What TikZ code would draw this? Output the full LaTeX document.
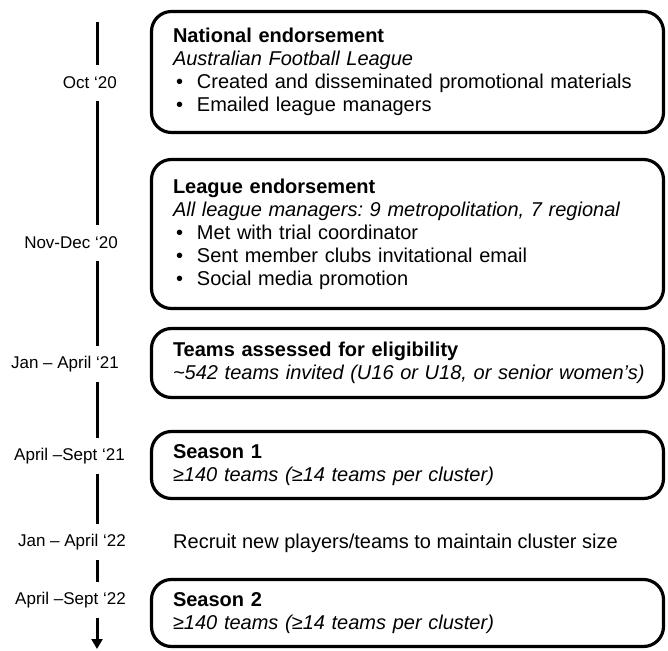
\documentclass[tikz,border=0pt]{standalone}
\usepackage{fontspec}
\setmainfont{Liberation Sans}
\usetikzlibrary{arrows.meta}
\newcommand\bul{\makebox[24pt][l]{\hspace{3pt}•}}
\frenchspacing
\hfuzz=100pt
\begin{document}
\begin{tikzpicture}[x=1pt,y=1pt,
  box/.style={draw=black, line width=3.2pt, rounded corners=20pt, minimum width=512pt,
    text width=469pt, inner xsep=21.5pt, inner ysep=0pt, align=left,
    font=\fontsize{20}{23}\selectfont, anchor=center},
  lab/.style={anchor=east, inner sep=0pt, minimum height=36pt, font=\fontsize{17}{20}\selectfont},
  tl/.style={line width=3pt}]
\useasboundingbox (0,0) rectangle (668,650);

% boxes
\node[box, minimum height=121pt] (b1) at (407.5,578) {\textbf{National endorsement}\\
  \textit{Australian Football League}\\
  \bul Created and disseminated promotional materials\\
  \bul Emailed league managers};
\node[box, minimum height=149pt] (b2) at (407.5,416) {\textbf{League endorsement}\\
  \textit{All league managers: 9 metropolitation, 7 regional}\\
  \bul Met with trial coordinator\\
  \bul Sent member clubs invitational email\\
  \bul Social media promotion};
\node[box, minimum height=69pt] (b3) at (407.5,287) {\textbf{Teams assessed for eligibility}\\
  \mbox{\textit{\textasciitilde 542 teams invited (U16 or U18, or senior women’s)}}};
\node[box, minimum height=67pt] (b4) at (407.5,185) {\textbf{Season 1}\\
  \textit{≥140 teams (≥14 teams per cluster)}};
\node[anchor=west, inner sep=0pt, font=\fontsize{20}{23}\selectfont] (rec) at (173,107)
  {Recruit new players/teams to maintain cluster size};
\node[box, minimum height=67pt] (b5) at (407.5,37) {\textbf{Season 2}\\
  \textit{≥140 teams (≥14 teams per cluster)}};

% timeline labels
\node[lab] (l1) at (117,567) {Oct ‘20};
\node[lab] (l2) at (118,407) {Nov-Dec ‘20};
\node[lab] (l3) at (119,286) {Jan – April ‘21};
\node[lab] (l4) at (125,194) {April –Sept ‘21};
\node[lab] (l5) at (126,108) {Jan – April ‘22};
\node[lab] (l6) at (126,50) {April –Sept ‘22};

% timeline
\coordinate (ttop) at (97,628);
\coordinate (tend) at (97,1);
\draw[tl] (ttop) -- (l1.north -| ttop);
\draw[tl] (l1.south -| ttop) -- (l2.north -| ttop);
\draw[tl] (l2.south -| ttop) -- (l3.north -| ttop);
\draw[tl] (l3.south -| ttop) -- (l4.north -| ttop);
\draw[tl] (l4.south -| ttop) -- (l5.north -| ttop);
\draw[tl] (l5.south -| ttop) -- (l6.north -| ttop);
\draw[tl, -{Triangle[width=11pt,length=10pt]}] (l6.south -| ttop) -- (tend);
\end{tikzpicture}
\end{document}
